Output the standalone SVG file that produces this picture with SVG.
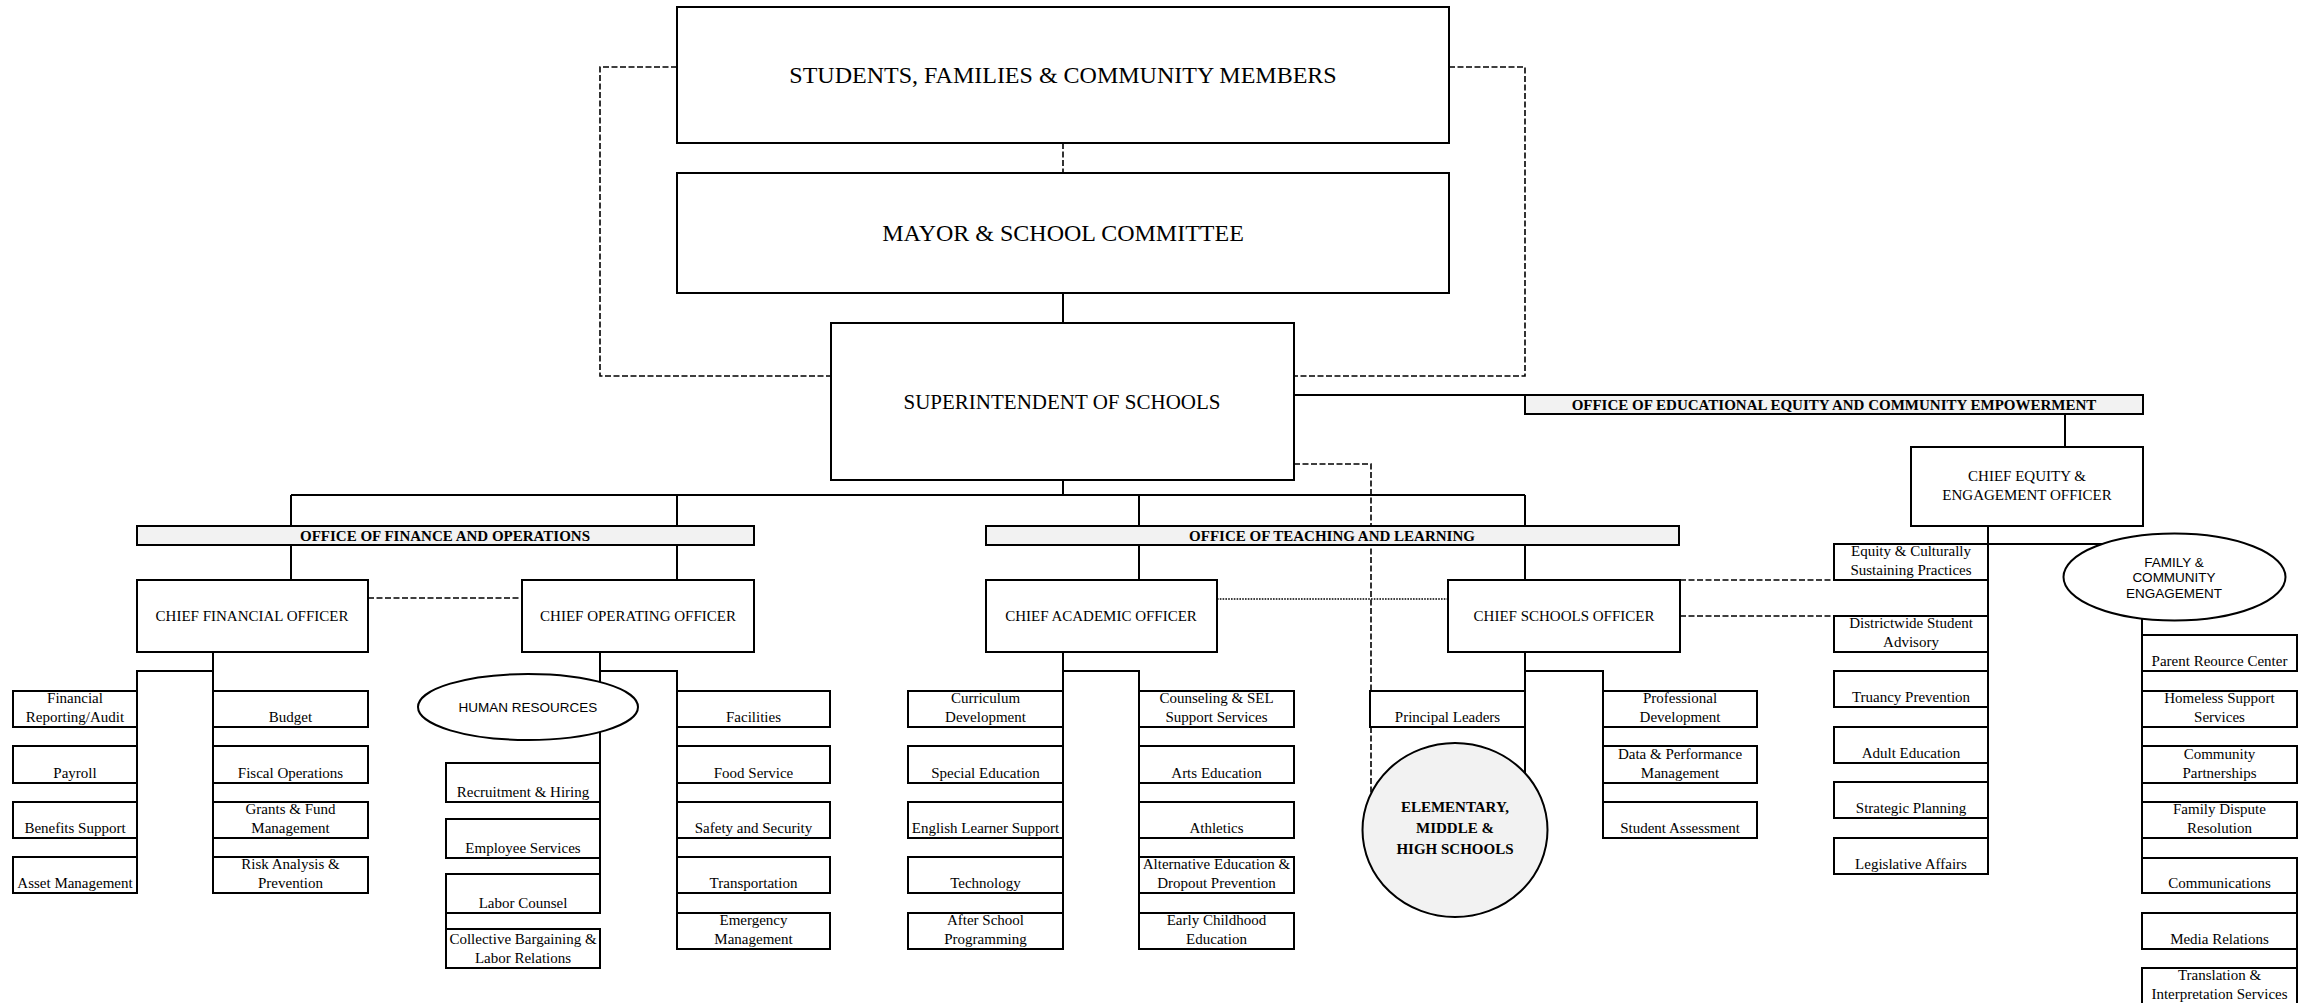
<svg xmlns="http://www.w3.org/2000/svg" width="2317" height="1003" viewBox="0 0 2317 1003">
<style>
.box{fill:#fff;stroke:#000;stroke-width:2}
.bar{fill:#f2f2f2;stroke:#000;stroke-width:2}
.ln{fill:none;stroke:#000;stroke-width:2}
.dash{fill:none;stroke:#000;stroke-width:1.6;stroke-dasharray:6 2.5}
.dot{fill:none;stroke:#000;stroke-width:1.6;stroke-dasharray:1.6 1.2}
text{font-family:"Liberation Serif","Times New Roman",serif;font-size:15px;text-anchor:middle;fill:#000}
.b{font-weight:bold}
.s{font-family:"Liberation Sans",Arial,sans-serif;font-size:13.5px}
.big{font-size:24px}
.sup{font-size:21px}
</style>
<rect width="2317" height="1003" fill="#fff"/>
<g id="connectors">
<path class="dash" d="M677,67 H600 V376 H831"/>
<path class="dash" d="M1449,67 H1525 V376 H1294"/>
<path class="dash" d="M1063,143 V173"/>
<path class="ln" d="M1063,293 V323"/>
<path class="ln" d="M1294,395 H1525"/>
<path class="ln" d="M2065,414 V447"/>
<path class="dash" d="M1294,464 H1371 V796"/>
<path class="ln" d="M1063,480 V495 M291,495 H1525 M291,495 V526 M677,495 V526 M1139,495 V526 M1525,495 V526"/>
<path class="ln" d="M291,545 V580 M677,545 V580 M1139,545 V580 M1525,545 V580"/>
<path class="dash" d="M368,598 H522"/>
<path class="dot" d="M1217,599 H1448"/>
<path class="dash" d="M1680,580 H1834 M1680,616 H1834"/>
<path class="ln" d="M213,652 V893 M213,671 H137 V893"/>
<path class="ln" d="M600,652 V913 M600,671 H677 V949 M446,913 V929"/>
<path class="ln" d="M1063,652 V949 M1063,671 H1139 V949"/>
<path class="ln" d="M1525,652 V830 M1525,671 H1603 V838"/>
<path class="ln" d="M1988,526 V874 M1988,544 H2142 V858 M2297,893 V913 M2297,949 V968"/>
</g>
<g id="students"><rect class="box" x="677" y="7" width="772" height="136"/><text class="big" x="1063" y="83">STUDENTS, FAMILIES &amp; COMMUNITY MEMBERS</text></g>
<g id="mayor"><rect class="box" x="677" y="173" width="772" height="120"/><text class="big" x="1063" y="241">MAYOR &amp; SCHOOL COMMITTEE</text></g>
<g id="superintendent"><rect class="box" x="831" y="323" width="463" height="157"/><text class="sup" x="1062" y="409">SUPERINTENDENT OF SCHOOLS</text></g>
<g id="office-equity"><rect class="bar" x="1525" y="395" width="618" height="19"/><text class="b" x="1834" y="410">OFFICE OF EDUCATIONAL EQUITY AND COMMUNITY EMPOWERMENT</text></g>
<g id="office-finance"><rect class="bar" x="137" y="526" width="617" height="19"/><text class="b" x="445" y="541">OFFICE OF FINANCE AND OPERATIONS</text></g>
<g id="office-teaching"><rect class="bar" x="986" y="526" width="693" height="19"/><text class="b" x="1332" y="541">OFFICE OF TEACHING AND LEARNING</text></g>
<g id="cfo"><rect class="box" x="137" y="580" width="231" height="72"/><text x="252" y="621">CHIEF FINANCIAL OFFICER</text></g>
<g id="coo"><rect class="box" x="522" y="580" width="232" height="72"/><text x="638" y="621">CHIEF OPERATING OFFICER</text></g>
<g id="cao"><rect class="box" x="986" y="580" width="231" height="72"/><text x="1101" y="621">CHIEF ACADEMIC OFFICER</text></g>
<g id="cso"><rect class="box" x="1448" y="580" width="232" height="72"/><text x="1564" y="621">CHIEF SCHOOLS OFFICER</text></g>
<g id="ceo"><rect class="box" x="1911" y="447" width="232" height="79"/><text x="2027" y="481">CHIEF EQUITY &amp;</text><text x="2027" y="500">ENGAGEMENT OFFICER</text></g>

<g id="fin-reporting"><rect class="box" x="13" y="691" width="124" height="36"/><text x="75" y="703">Financial</text><text x="75" y="722">Reporting/Audit</text></g>
<g id="payroll"><rect class="box" x="13" y="746" width="124" height="37"/><text x="75" y="778">Payroll</text></g>
<g id="benefits"><rect class="box" x="13" y="802" width="124" height="36"/><text x="75" y="833">Benefits Support</text></g>
<g id="asset"><rect class="box" x="13" y="857" width="124" height="36"/><text x="75" y="888">Asset Management</text></g>
<g id="budget"><rect class="box" x="213" y="691" width="155" height="36"/><text x="290.5" y="722">Budget</text></g>
<g id="fiscal"><rect class="box" x="213" y="746" width="155" height="37"/><text x="290.5" y="778">Fiscal Operations</text></g>
<g id="grants"><rect class="box" x="213" y="802" width="155" height="36"/><text x="290.5" y="814">Grants &amp; Fund</text><text x="290.5" y="833">Management</text></g>
<g id="risk"><rect class="box" x="213" y="857" width="155" height="36"/><text x="290.5" y="869">Risk Analysis &amp;</text><text x="290.5" y="888">Prevention</text></g>

<g id="hr"><ellipse class="box" cx="528" cy="707" rx="110" ry="33"/><text class="s" x="528" y="712">HUMAN RESOURCES</text></g>
<g id="recruitment"><rect class="box" x="446" y="763" width="154" height="39"/><text x="523" y="797">Recruitment &amp; Hiring</text></g>
<g id="employee"><rect class="box" x="446" y="819" width="154" height="39"/><text x="523" y="853">Employee Services</text></g>
<g id="labor-counsel"><rect class="box" x="446" y="874" width="154" height="39"/><text x="523" y="908">Labor Counsel</text></g>
<g id="collective"><rect class="box" x="446" y="929" width="154" height="39"/><text x="523" y="944">Collective Bargaining &amp;</text><text x="523" y="963">Labor Relations</text></g>

<g id="facilities"><rect class="box" x="677" y="691" width="153" height="36"/><text x="753.5" y="722">Facilities</text></g>
<g id="food"><rect class="box" x="677" y="746" width="153" height="37"/><text x="753.5" y="778">Food Service</text></g>
<g id="safety"><rect class="box" x="677" y="802" width="153" height="36"/><text x="753.5" y="833">Safety and Security</text></g>
<g id="transportation"><rect class="box" x="677" y="857" width="153" height="36"/><text x="753.5" y="888">Transportation</text></g>
<g id="emergency"><rect class="box" x="677" y="913" width="153" height="36"/><text x="753.5" y="925">Emergency</text><text x="753.5" y="944">Management</text></g>

<g id="curriculum"><rect class="box" x="908" y="691" width="155" height="36"/><text x="985.5" y="703">Curriculum</text><text x="985.5" y="722">Development</text></g>
<g id="special-ed"><rect class="box" x="908" y="746" width="155" height="37"/><text x="985.5" y="778">Special Education</text></g>
<g id="ell"><rect class="box" x="908" y="802" width="155" height="36"/><text x="985.5" y="833">English Learner Support</text></g>
<g id="technology"><rect class="box" x="908" y="857" width="155" height="36"/><text x="985.5" y="888">Technology</text></g>
<g id="after-school"><rect class="box" x="908" y="913" width="155" height="36"/><text x="985.5" y="925">After School</text><text x="985.5" y="944">Programming</text></g>
<g id="counseling"><rect class="box" x="1139" y="691" width="155" height="36"/><text x="1216.5" y="703">Counseling &amp; SEL</text><text x="1216.5" y="722">Support Services</text></g>
<g id="arts"><rect class="box" x="1139" y="746" width="155" height="37"/><text x="1216.5" y="778">Arts Education</text></g>
<g id="athletics"><rect class="box" x="1139" y="802" width="155" height="36"/><text x="1216.5" y="833">Athletics</text></g>
<g id="alternative"><rect class="box" x="1139" y="857" width="155" height="36"/><text x="1216.5" y="869">Alternative Education &amp;</text><text x="1216.5" y="888">Dropout Prevention</text></g>
<g id="early"><rect class="box" x="1139" y="913" width="155" height="36"/><text x="1216.5" y="925">Early Childhood</text><text x="1216.5" y="944">Education</text></g>

<g id="principal"><rect class="box" x="1370" y="691" width="155" height="36"/><text x="1447.5" y="722">Principal Leaders</text></g>
<g id="schools"><ellipse cx="1455" cy="830" rx="92.5" ry="87" fill="#f2f2f2" stroke="#000" stroke-width="2"/><text class="b" x="1455" y="812">ELEMENTARY,</text><text class="b" x="1455" y="833">MIDDLE &amp;</text><text class="b" x="1455" y="854">HIGH SCHOOLS</text></g>
<g id="prof-dev"><rect class="box" x="1603" y="691" width="154" height="36"/><text x="1680" y="703">Professional</text><text x="1680" y="722">Development</text></g>
<g id="data"><rect class="box" x="1603" y="746" width="154" height="37"/><text x="1680" y="759">Data &amp; Performance</text><text x="1680" y="778">Management</text></g>
<g id="assessment"><rect class="box" x="1603" y="802" width="154" height="36"/><text x="1680" y="833">Student Assessment</text></g>

<g id="equity-practices"><rect class="box" x="1834" y="544" width="154" height="36"/><text x="1911" y="556">Equity &amp; Culturally</text><text x="1911" y="575">Sustaining Practices</text></g>
<g id="advisory"><rect class="box" x="1834" y="616" width="154" height="36"/><text x="1911" y="628">Districtwide Student</text><text x="1911" y="647">Advisory</text></g>
<g id="truancy"><rect class="box" x="1834" y="671" width="154" height="36"/><text x="1911" y="702">Truancy Prevention</text></g>
<g id="adult"><rect class="box" x="1834" y="727" width="154" height="36"/><text x="1911" y="758">Adult Education</text></g>
<g id="strategic"><rect class="box" x="1834" y="782" width="154" height="36"/><text x="1911" y="813">Strategic Planning</text></g>
<g id="legislative"><rect class="box" x="1834" y="838" width="154" height="36"/><text x="1911" y="869">Legislative Affairs</text></g>

<g id="family-engagement"><ellipse class="box" cx="2174.5" cy="577" rx="111" ry="43.5"/><text class="s" x="2174" y="567">FAMILY &amp;</text><text class="s" x="2174" y="582">COMMUNITY</text><text class="s" x="2174" y="598">ENGAGEMENT</text></g>
<g id="parent"><rect class="box" x="2142" y="635" width="155" height="36"/><text x="2219.5" y="666">Parent Reource Center</text></g>
<g id="homeless"><rect class="box" x="2142" y="691" width="155" height="36"/><text x="2219.5" y="703">Homeless Support</text><text x="2219.5" y="722">Services</text></g>
<g id="partnerships"><rect class="box" x="2142" y="746" width="155" height="37"/><text x="2219.5" y="759">Community</text><text x="2219.5" y="778">Partnerships</text></g>
<g id="dispute"><rect class="box" x="2142" y="802" width="155" height="36"/><text x="2219.5" y="814">Family Dispute</text><text x="2219.5" y="833">Resolution</text></g>
<g id="communications"><rect class="box" x="2142" y="858" width="155" height="35"/><text x="2219.5" y="888">Communications</text></g>
<g id="media"><rect class="box" x="2142" y="913" width="155" height="36"/><text x="2219.5" y="944">Media Relations</text></g>
<g id="translation"><rect class="box" x="2142" y="968" width="155" height="40"/><text x="2219.5" y="980">Translation &amp;</text><text x="2219.5" y="999">Interpretation Services</text></g>
</svg>
